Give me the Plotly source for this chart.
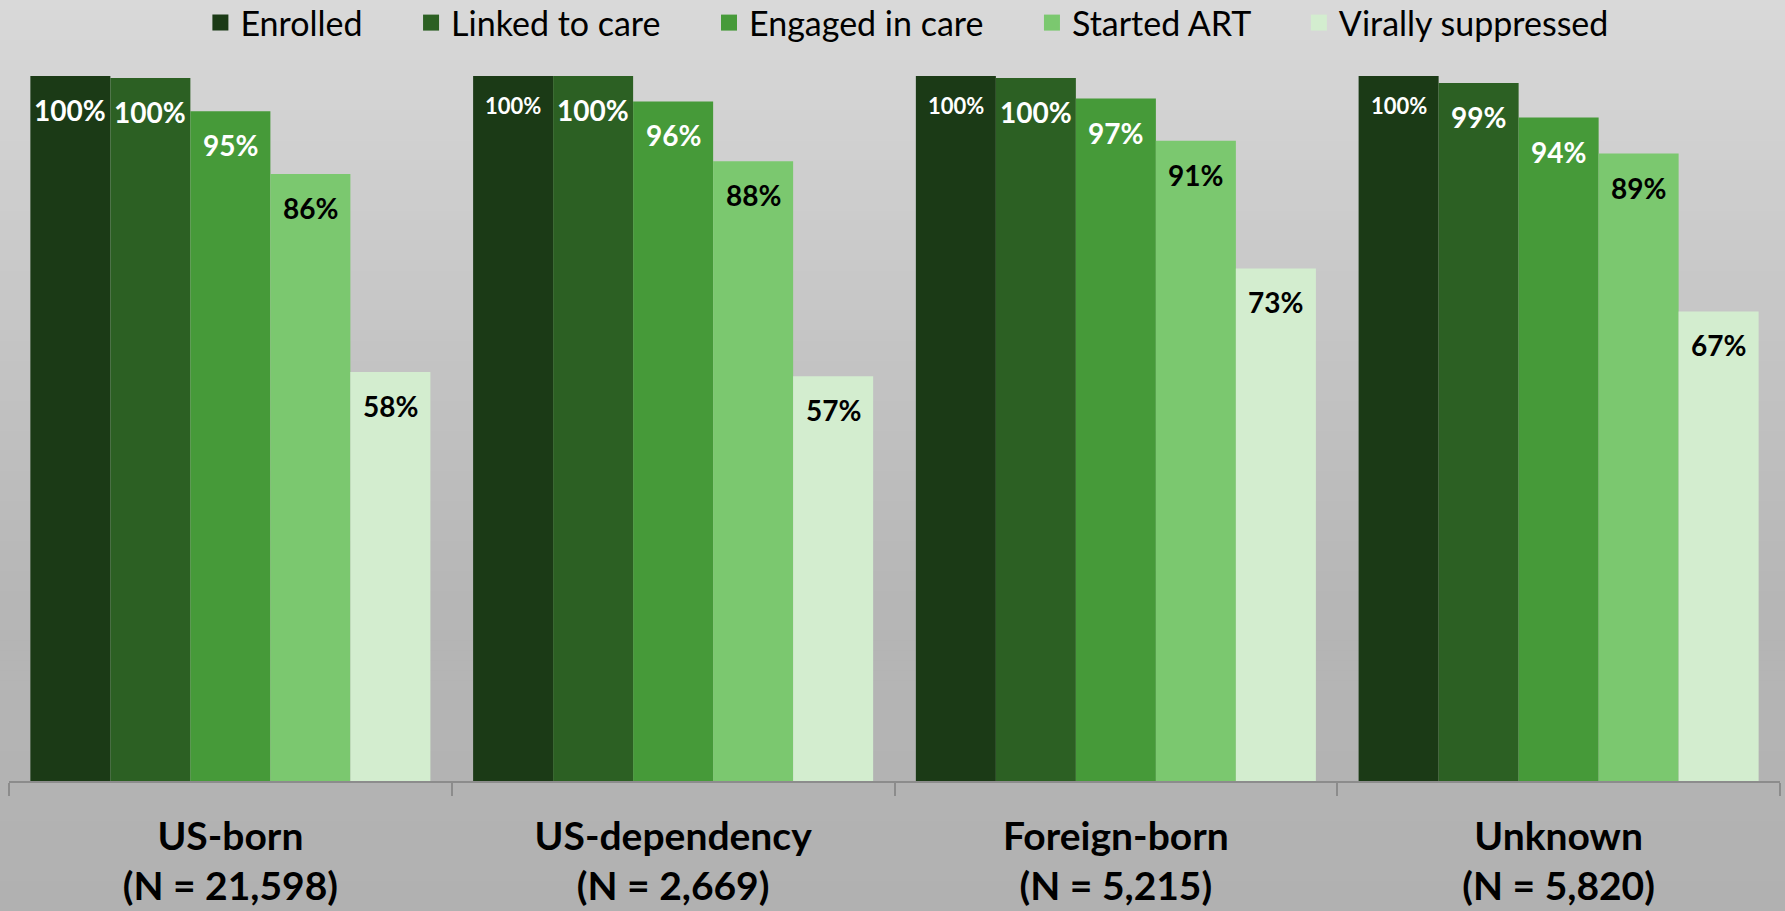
import plotly.graph_objects as go

# ---------------- data ----------------
categories = ["US-born", "US-dependency", "Foreign-born", "Unknown"]
group_n = ["21,598", "2,669", "5,215", "5,820"]
series_names = ["Enrolled", "Linked to care", "Engaged in care", "Started ART", "Virally suppressed"]
enrolled = [100.0, 100.0, 100.0, 100.0]
linked = [99.7, 100.0, 99.7, 99.0]
engaged = [95.0, 96.4, 96.8, 94.1]
started_art = [86.1, 87.9, 90.8, 89.0]
viral = [58.0, 57.4, 72.7, 66.6]
series_values = [enrolled, linked, engaged, started_art, viral]

# ---------------- style ----------------
colors = ["#1b3a16", "#2c6023", "#469a39", "#7bc86f", "#d3edcf"]
label_colors = ["white", "white", "white", "black", "black"]
FONT = "Lato, 'Open Sans', sans-serif"
group_frac = 0.9035
bar_w = group_frac / len(series_names)
legend_pad = "\u00a0" * 5

fig = go.Figure()

# background gradient (styling)
stops = [(0, 217), (300, 199), (600, 182), (911, 177)]
H, plot_top, plot_bot = 911, 76, 781
ph = plot_bot - plot_top
nb = 91
shapes = []
for k in range(nb):
    py0 = H * k / nb
    py1 = H * (k + 1) / nb + 1
    pm = (py0 + py1) / 2
    for (a, ca), (b, cb) in zip(stops[:-1], stops[1:]):
        if a <= pm <= b:
            c = ca + (cb - ca) * (pm - a) / (b - a)
            break
    else:
        c = stops[-1][1]
    c = int(round(c))
    shapes.append(dict(type="rect", xref="paper", yref="paper", layer="below",
                       x0=-0.1, x1=1.1,
                       y0=(plot_bot - py1) / ph, y1=(plot_bot - py0) / ph,
                       fillcolor=f"rgb({c},{c},{c})", line=dict(width=0)))

annotations = []
for j, (name, vals) in enumerate(zip(series_names, series_values)):
    xs = [i + (j - 2) * bar_w for i in range(len(categories))]
    fig.add_trace(go.Bar(x=xs, y=vals, width=bar_w, name=name,
                         marker=dict(color=colors[j], line=dict(width=0)),
                         showlegend=False, hoverinfo="skip"))
    # legend proxy
    fig.add_trace(go.Scatter(x=[None], y=[None], mode="markers",
                             name=name + (legend_pad if j < len(series_names) - 1 else ""),
                             marker=dict(symbol="square", size=16, color=colors[j]),
                             showlegend=True))
    for i, (x, v) in enumerate(zip(xs, vals)):
        small = (j == 0 and i > 0)
        annotations.append(dict(x=x, y=v, xref="x", yref="y",
                                text=f"<b>{round(v):d}%</b>", showarrow=False,
                                yanchor="middle", xanchor="center",
                                yshift=-29 if small else -34,
                                font=dict(family=FONT, size=22 if small else 28,
                                          color=label_colors[j])))

ticktext = [f"<b>{c}</b><br><b>(N = {n})</b>" for c, n in zip(categories, group_n)]

fig.update_layout(
    width=1785, height=911,
    margin=dict(l=9, r=5, t=plot_top, b=H - plot_bot, autoexpand=False),
    paper_bgcolor="#c8c8c8",
    plot_bgcolor="rgba(0,0,0,0)",
    barmode="overlay",
    shapes=shapes,
    annotations=annotations,
    font=dict(family=FONT, color="black"),
    legend=dict(orientation="h", x=0.507, xanchor="center",
                yref="container", y=1 - 23 / H, yanchor="middle",
                font=dict(family=FONT, size=34, color="black"),
                bgcolor="rgba(0,0,0,0)", itemclick=False),
    xaxis=dict(range=[-0.5, 3.5], tickvals=list(range(len(categories))), ticktext=ticktext,
               ticks="", showgrid=False, zeroline=False,
               showline=True, linecolor="#8c8c8c", linewidth=1.5,
               tickfont=dict(family=FONT, size=39, color="black"),
               ticklabelstandoff=20,
               minor=dict(tick0=-0.5, dtick=1, ticks="outside", ticklen=13,
                          tickcolor="#8c8c8c", tickwidth=1.5, showgrid=False)),
    yaxis=dict(range=[0, 100], visible=False, showgrid=False, zeroline=False),
)

fig.write_html("out.html", config={"displayModeBar": False},
               post_script="document.body.style.margin='0px';document.body.style.overflow='hidden';")
